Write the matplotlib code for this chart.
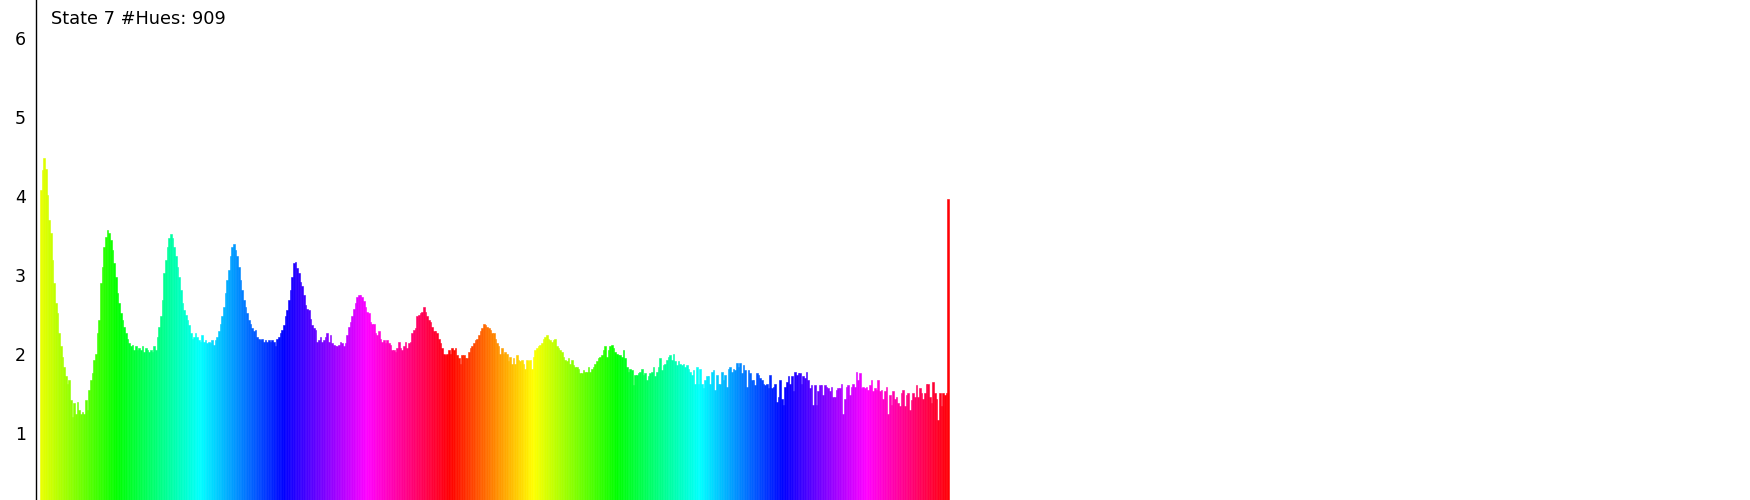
import numpy as np
import matplotlib
matplotlib.use("Agg")
import matplotlib.pyplot as plt
from matplotlib.colors import hsv_to_rgb

title_text = "State 7 #Hues: 909"
y_ticks = [1, 2, 3, 4, 5, 6]

# Histogram heights, left to right (909 hues spanned)
seg_a = [4.08, 4.33, 4.49, 4.35, 4.02, 3.70, 3.53, 3.19, 2.90, 2.65, 2.52, 2.27, 2.10, 1.97, 1.84, 1.72,
         1.63, 1.67, 1.42, 1.21, 1.38, 1.25, 1.40, 1.29, 1.25, 1.27, 1.25, 1.42, 1.29, 1.55, 1.67, 1.76,
         1.93, 2.01, 2.27, 2.43, 2.90, 3.11, 3.36, 3.49, 3.57, 3.53, 3.45, 3.32, 3.15, 2.98, 2.77, 2.65,
         2.52, 2.43, 2.35, 2.27, 2.20, 2.14, 2.10, 2.12, 2.05, 2.10, 2.05, 2.08, 2.05, 2.10, 2.03, 2.08,
         2.05, 2.03, 2.05, 2.03, 2.10, 2.05, 2.22, 2.35, 2.48, 2.69, 3.03, 3.19, 3.36, 3.47, 3.52, 3.47,
         3.36, 3.24, 3.11, 2.98, 2.81, 2.65, 2.56, 2.50, 2.43, 2.37, 2.27, 2.20, 2.22, 2.27, 2.22, 2.18,
         2.16, 2.24, 2.16, 2.18, 2.14, 2.16, 2.14, 2.18, 2.12, 2.18, 2.22, 2.29, 2.39, 2.48, 2.60, 2.77,
         2.94, 3.07, 3.24, 3.36, 3.40, 3.32, 3.24, 3.11, 2.94, 2.81, 2.69, 2.60, 2.52, 2.43, 2.39, 2.33,
         2.29, 2.31, 2.22, 2.20, 2.18, 2.20, 2.16, 2.18, 2.16, 2.18, 2.16, 2.18, 2.16, 2.10, 2.20, 2.22,
         2.27, 2.31, 2.37, 2.48, 2.56, 2.69, 2.81, 2.98, 3.15, 3.17, 3.09, 3.03]
seg_b = [2.92, 2.86, 2.75, 2.62, 2.58, 2.56, 2.45, 2.37, 2.33, 2.31, 2.16, 2.18, 2.22, 2.16, 2.18, 2.22,
         2.27, 2.16, 2.24, 2.14, 2.12, 2.10, 2.10, 2.12, 2.16, 2.14, 2.10, 2.14, 2.24, 2.35, 2.41, 2.48,
         2.58, 2.65, 2.73, 2.75, 2.75, 2.73, 2.67, 2.60, 2.54, 2.52, 2.41, 2.39, 2.39, 2.27, 2.24, 2.29,
         2.20, 2.16, 2.18, 2.14, 2.18, 2.14, 2.12, 2.05, 2.05, 2.03, 2.08, 2.16, 2.08, 2.05, 2.10, 2.16,
         2.08, 2.14, 2.16, 2.27, 2.31, 2.33, 2.48, 2.50, 2.52, 2.54, 2.60, 2.54, 2.48, 2.43, 2.41, 2.35,
         2.29, 2.29, 2.27, 2.20, 2.14, 2.08, 2.01, 1.99, 2.01, 2.05, 2.01, 2.08, 2.05, 2.08, 1.99, 1.95,
         1.88, 1.99, 1.99, 1.95, 1.95, 2.03, 2.08, 2.10, 2.14, 2.18, 2.20, 2.24, 2.29, 2.33, 2.39, 2.37,
         2.35, 2.33, 2.31, 2.27, 2.27, 2.20, 2.14, 2.10]
seg_c = [2.01, 2.08, 2.01, 2.03, 2.01, 1.91, 1.97, 1.88, 1.95, 1.88, 1.99, 1.93, 1.91, 1.93, 1.88, 1.82,
         1.93, 1.91, 1.93, 1.82, 1.97, 2.05, 2.08, 2.10, 2.12, 2.14, 2.20, 2.22, 2.24, 2.20, 2.18, 2.16,
         2.18, 2.20, 2.10, 2.08, 2.05, 2.03, 1.97, 1.93, 1.91, 1.95, 1.88, 1.93, 1.86, 1.84, 1.84, 1.82,
         1.76, 1.76, 1.80, 1.78, 1.78, 1.84, 1.78, 1.82, 1.84, 1.88, 1.91, 1.95, 1.97, 1.99, 2.05, 2.10,
         1.97, 2.05, 2.10, 2.12, 2.08, 2.03, 2.01, 1.99, 1.99, 1.97, 2.05, 1.95, 1.84, 1.78, 1.82, 1.80,
         1.61, 1.74, 1.74, 1.76, 1.78, 1.82, 1.74, 1.76, 1.67, 1.72, 1.76, 1.78, 1.84, 1.72, 1.78, 1.84,
         1.95, 1.80, 1.86, 1.88, 1.93, 1.97, 1.99, 1.93, 2.01, 1.91, 1.86, 1.91, 1.88, 1.86, 1.88, 1.84,
         1.86, 1.82, 1.78, 1.74, 1.80, 1.63, 1.84, 1.63]
seg_d = [1.82, 1.63, 1.57, 1.67, 1.72, 1.72, 1.63, 1.78, 1.80, 1.55, 1.74, 1.63, 1.63, 1.78, 1.67, 1.74,
         1.59, 1.82, 1.84, 1.78, 1.82, 1.80, 1.89, 1.84, 1.89, 1.76, 1.86, 1.80, 1.59, 1.80, 1.76, 1.67,
         1.67, 1.61, 1.76, 1.74, 1.70, 1.67, 1.63, 1.61, 1.63, 1.57, 1.74, 1.57, 1.59, 1.63, 1.40, 1.46,
         1.67, 1.44, 1.36, 1.59, 1.65, 1.72, 1.63, 1.72, 1.53, 1.78, 1.74, 1.76, 1.76, 1.63, 1.72, 1.70,
         1.78, 1.67, 1.57, 1.61, 1.36, 1.61, 1.36, 1.53, 1.61, 1.61, 1.48, 1.61, 1.59, 1.57, 1.53, 1.59,
         1.46, 1.46, 1.55, 1.57, 1.57, 1.63, 1.25, 1.44, 1.59, 1.61, 1.48, 1.59, 1.63, 1.59, 1.78, 1.67,
         1.76, 1.57, 1.59, 1.57, 1.59, 1.55, 1.61, 1.67, 1.53, 1.57, 1.55, 1.67, 1.53, 1.55, 1.44, 1.53,
         1.59, 1.25, 1.48, 1.36, 1.53, 1.44, 1.46, 1.38]
seg_e = [1.34, 1.51, 1.55, 1.34, 1.48, 1.51, 1.29, 1.42, 1.51, 1.46, 1.61, 1.46, 1.57, 1.51, 1.44, 1.51,
         1.62, 1.62, 1.46, 1.38, 1.65, 1.51, 1.44, 1.17, 1.51, 1.34, 1.51, 1.48, 1.51, 3.97]

heights = np.array(seg_a + seg_b + seg_c + seg_d + seg_e)
n_hues = 909

W, H = 1750, 500
fig = plt.figure(figsize=(W / 100, H / 100), dpi=100)
ax_left = 35.7 / W
ax = fig.add_axes([ax_left, 0, 1 - ax_left, 1])

n = len(heights)
w = n_hues / n
x = np.arange(n) * w
centers = x + w / 2
hues = ((64.5 + centers * 0.7206) % 360) / 360.0
cols = hsv_to_rgb(np.stack([hues, np.ones(n), np.ones(n)], axis=1))

ax.bar(x, heights, width=w, align='edge', color=cols, edgecolor=cols, linewidth=0.4)

ax.set_xlim(-4.3, 1710)
ax.set_ylim(0.156, 6.485)
ax.set_yticks(y_ticks)
ax.set_yticklabels([str(t) for t in y_ticks])
ax.tick_params(axis='y', length=0, pad=7, labelsize=12.5, colors='black')
ax.set_xticks([])
for s in ['top', 'right', 'bottom']:
    ax.spines[s].set_visible(False)
ax.spines['left'].set_color('black')
ax.spines['left'].set_linewidth(1.0)
ax.set_facecolor('white')

fig.text(51 / W, 1 - 24.3 / H, title_text, fontsize=12.8, ha='left', va='baseline', color='black')

fig.savefig("out.png", dpi=100, facecolor='white')
